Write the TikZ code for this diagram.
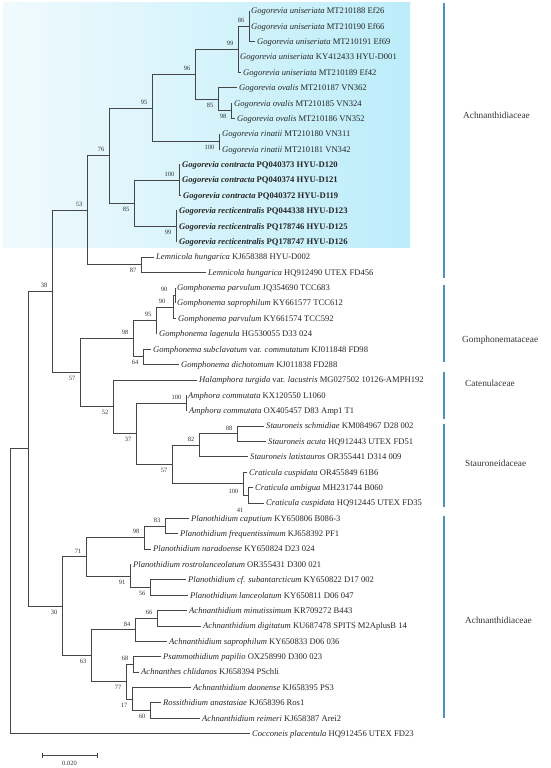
\documentclass[tikz,border=0pt]{standalone}
\usepackage{fontspec}
\setmainfont{Liberation Serif}
\usepackage{tikz}
\usetikzlibrary{calc}
\definecolor{cladebg}{RGB}{188,237,250}
\definecolor{cladebgl}{RGB}{240,250,253}
\definecolor{famblue}{RGB}{72,148,190}
\definecolor{treeline}{RGB}{70,70,70}
\newcommand{\taxon}[1]{\textit{#1}}
\newcommand{\newtaxon}[1]{\textbf{\textit{#1}}}

\tikzset{
	branch/.style={draw=treeline, line width=1pt},
	leaf/.style={anchor=west, inner xsep=2pt, inner ysep=0pt, text height=1.5ex, text depth=.3ex,
		font=\fontsize{8.6}{10}\selectfont, text=black!85},
	bootup/.style={anchor=south east, inner sep=0pt, font=\fontsize{6.5}{7}\selectfont,
		text=black!80, xshift=-4.5pt, yshift=3.5pt},
	bootdn/.style={anchor=north east, inner sep=0pt, font=\fontsize{6.5}{7}\selectfont,
		text=black!80, xshift=-4.5pt, yshift=-3.5pt},
	famline/.style={draw=famblue, line width=1.1pt},
	famlabel/.style={anchor=west, inner sep=0pt, font=\fontsize{9.3}{11}\selectfont, text=black!80},
}

\begin{document}
\begin{tikzpicture}[x=1pt, y=-1pt]
		\useasboundingbox (0,0) rectangle (550,768);
		% shaded clade
		\shade[left color=cladebgl, right color=cladebg] (3,3) rectangle (410,247);

		% tips
		\node[leaf] (l1) at (249,11) {\taxon{Gogorevia uniseriata} MT210188 Ef26};
		\node[leaf] (l2) at (249,26.4) {\taxon{Gogorevia uniseriata} MT210190 Ef66};
		\node[leaf] (l3) at (255,41.75) {\taxon{Gogorevia uniseriata} MT210191 Ef69};
		\node[leaf] (l4) at (238,57.1) {\taxon{Gogorevia uniseriata} KY412433 HYU-D001};
		\node[leaf] (l5) at (241,72.5) {\taxon{Gogorevia uniseriata} MT210189 Ef42};
		\node[leaf] (l6) at (237,87.9) {\taxon{Gogorevia ovalis} MT210187 VN362};
		\node[leaf] (l7) at (232,103.25) {\taxon{Gogorevia ovalis} MT210185 VN324};
		\node[leaf] (l8) at (235,118.6) {\taxon{Gogorevia ovalis} MT210186 VN352};
		\node[leaf] (l9) at (220,134) {\taxon{Gogorevia rinatii} MT210180 VN311};
		\node[leaf] (l10) at (220,149.4) {\taxon{Gogorevia rinatii} MT210181 VN342};
		\node[leaf] (l11) at (180,164.75) {\newtaxon{Gogorevia contracta} \textbf{PQ040373 HYU-D120}};
		\node[leaf] (l12) at (180,180.1) {\newtaxon{Gogorevia contracta} \textbf{PQ040374 HYU-D121}};
		\node[leaf] (l13) at (181,195.5) {\newtaxon{Gogorevia contracta} \textbf{PQ040372 HYU-D119}};
		\node[leaf] (l14) at (177,210.9) {\newtaxon{Gogorevia recticentralis} \textbf{PQ044338 HYU-D123}};
		\node[leaf] (l15) at (177,226.25) {\newtaxon{Gogorevia recticentralis} \textbf{PQ178746 HYU-D125}};
		\node[leaf] (l16) at (177,241.6) {\newtaxon{Gogorevia recticentralis} \textbf{PQ178747 HYU-D126}};
		\node[leaf] (l17) at (154,257) {\taxon{Lemnicola hungarica} KJ658388 HYU-D002};
		\node[leaf] (l18) at (206,272.4) {\taxon{Lemnicola hungarica} HQ912490 UTEX FD456};
		\node[leaf] (l19) at (175,287.75) {\taxon{Gomphonema parvulum} JQ354690 TCC683};
		\node[leaf] (l20) at (175,303.1) {\taxon{Gomphonema saprophilum} KY661577 TCC612};
		\node[leaf] (l21) at (176,318.5) {\taxon{Gomphonema parvulum} KY661574 TCC592};
		\node[leaf] (l22) at (157,333.9) {\taxon{Gomphonema lagenula} HG530055 D33 024};
		\node[leaf] (l23) at (151,349.25) {\taxon{Gomphonema subclavatum} var. \taxon{commutatum} KJ011848 FD98};
		\node[leaf] (l24) at (179,364.6) {\taxon{Gomphonema dichotomum} KJ011838 FD288};
		\node[leaf] (l25) at (197,380) {\taxon{Halamphora turgida} var. \taxon{lacustris} MG027502 10126-AMPH192};
		\node[leaf] (l26) at (186,395.4) {\taxon{Amphora commutata} KX120550 L1060};
		\node[leaf] (l27) at (187,410.75) {\taxon{Amphora commutata} OX405457 D83 Amp1 T1};
		\node[leaf] (l28) at (264,426.1) {\taxon{Stauroneis schmidiae} KM084967 D28 002};
		\node[leaf] (l29) at (266,441.5) {\taxon{Stauroneis acuta} HQ912443 UTEX FD51};
		\node[leaf] (l30) at (248,456.9) {\taxon{Stauroneis latistauros} OR355441 D314 009};
		\node[leaf] (l31) at (247,472.25) {\taxon{Craticula cuspidata} OR455849 61B6};
		\node[leaf] (l32) at (253,487.6) {\taxon{Craticula ambigua} MH231744 B060};
		\node[leaf] (l33) at (264,503) {\taxon{Craticula cuspidata} HQ912445 UTEX FD35};
		\node[leaf] (l34) at (189,518.4) {\taxon{Planothidium caputium} KY650806 B086-3};
		\node[leaf] (l35) at (178,533.75) {\taxon{Planothidium frequentissimum} KJ658392 PF1};
		\node[leaf] (l36) at (151,549.1) {\taxon{Planothidium naradoense} KY650824 D23 024};
		\node[leaf] (l37) at (131,564.5) {\taxon{Planothidium rostrolanceolatum} OR355431 D300 021};
		\node[leaf] (l38) at (186,579.9) {\taxon{Planothidium cf. subantarcticum} KY650822 D17 002};
		\node[leaf] (l39) at (188,595.25) {\taxon{Planothidium lanceolatum} KY650811 D06 047};
		\node[leaf] (l40) at (187,610.6) {\taxon{Achnanthidium minutissimum} KR709272 B443};
		\node[leaf] (l41) at (201,626) {\taxon{Achnanthidium digitatum} KU687478 SPITS M2AplusB 14};
		\node[leaf] (l42) at (167,641.4) {\taxon{Achnanthidium saprophilum} KY650833 D06 036};
		\node[leaf] (l43) at (161,656.75) {\taxon{Psammothidium papilio} OX258990 D300 023};
		\node[leaf] (l44) at (139,672.1) {\taxon{Achnanthes chlidanos} KJ658394 PSchli};
		\node[leaf] (l45) at (191,687.5) {\taxon{Achnanthidium daonense} KJ658395 PS3};
		\node[leaf] (l46) at (161,702.9) {\taxon{Rossithidium anastasiae} KJ658396 Ros1};
		\node[leaf] (l47) at (200,718.25) {\taxon{Achnanthidium reimeri} KJ658387 Arei2};
		\node[leaf] (l48) at (250,733.6) {\taxon{Cocconeis placentula} HQ912456 UTEX FD23};

		% inner nodes
		\coordinate (n86) at (249,26.4);
		\coordinate (n99a) at (238,49.4);
		\coordinate (n98a) at (231,110.9);
		\coordinate (n85a) at (218,99.4);
		\coordinate (n96) at (195,74.4);
		\coordinate (n100a) at (219,141.7);
		\coordinate (n95a) at (152,108);
		\coordinate (n100b) at (179,180.1);
		\coordinate (n99b) at (176,226.25);
		\coordinate (n85b) at (134,203.2);
		\coordinate (n76) at (109,155.6);
		\coordinate (n87) at (141,264.7);
		\coordinate (n53) at (87,210.1);
		\coordinate (n90a) at (175,295.4);
		\coordinate (n90b) at (173,307);
		\coordinate (n95b) at (156,320.4);
		\coordinate (n64) at (143,356.9);
		\coordinate (n98b) at (133,338.7);
		\coordinate (n100c) at (186,403.1);
		\coordinate (n88) at (237,433.8);
		\coordinate (n82) at (199,445.3);
		\coordinate (n41) at (248,495.3);
		\coordinate (n100d) at (243,483.8);
		\coordinate (n57a) at (172,464.5);
		\coordinate (n37) at (136,433.8);
		\coordinate (n52) at (113,406.9);
		\coordinate (n57b) at (80,372.8);
		\coordinate (n38) at (52,291.4);
		\coordinate (n83) at (165,526.1);
		\coordinate (n98c) at (144,537.6);
		\coordinate (n56) at (150,587.6);
		\coordinate (n91) at (130,576);
		\coordinate (n71) at (86,556.8);
		\coordinate (n66) at (157,618.3);
		\coordinate (n84) at (135,629.8);
		\coordinate (n68) at (133,664.4);
		\coordinate (n60) at (150,710.6);
		\coordinate (n17) at (132,699);
		\coordinate (n77) at (126,681.7);
		\coordinate (n63) at (91,655.8);
		\coordinate (n30) at (62,606.3);
		\coordinate (ntop) at (28,448.9);
		\coordinate (root) at (10,591.2);

		% branches
		\draw[branch] (root) |- (ntop); \draw[branch] (root) |- (l48.west);
		\draw[branch] (ntop) |- (n38); \draw[branch] (ntop) |- (n30);
		\draw[branch] (n38) |- (n53); \draw[branch] (n38) |- (n57b);
		\draw[branch] (n53) |- (n76); \draw[branch] (n53) |- (n87);
		\draw[branch] (n76) |- (n95a); \draw[branch] (n76) |- (n85b);
		\draw[branch] (n95a) |- (n96); \draw[branch] (n95a) |- (n100a);
		\draw[branch] (n96) |- (n99a); \draw[branch] (n96) |- (n85a);
		\draw[branch] (n99a) |- (n86); \draw[branch] (n99a) |- (l4.west); \draw[branch] (n99a) |- (l5.west);
		\draw[branch] (n86) |- (l1.west); \draw[branch] (n86) |- (l2.west); \draw[branch] (n86) |- (l3.west);
		\draw[branch] (n85a) |- (l6.west); \draw[branch] (n85a) |- (n98a);
		\draw[branch] (n98a) |- (l7.west); \draw[branch] (n98a) |- (l8.west);
		\draw[branch] (n100a) |- (l9.west); \draw[branch] (n100a) |- (l10.west);
		\draw[branch] (n85b) |- (n100b); \draw[branch] (n85b) |- (n99b);
		\draw[branch] (n100b) |- (l11.west); \draw[branch] (n100b) |- (l12.west); \draw[branch] (n100b) |- (l13.west);
		\draw[branch] (n99b) |- (l14.west); \draw[branch] (n99b) |- (l15.west); \draw[branch] (n99b) |- (l16.west);
		\draw[branch] (n87) |- (l17.west); \draw[branch] (n87) |- (l18.west);
		\draw[branch] (n57b) |- (n98b); \draw[branch] (n57b) |- (n52);
		\draw[branch] (n98b) |- (n95b); \draw[branch] (n98b) |- (n64);
		\draw[branch] (n95b) |- (n90b); \draw[branch] (n95b) |- (l22.west);
		\draw[branch] (n90b) |- (n90a); \draw[branch] (n90b) |- (l21.west);
		\draw[branch] (n90a) |- (l19.west); \draw[branch] (n90a) |- (l20.west);
		\draw[branch] (n64) |- (l23.west); \draw[branch] (n64) |- (l24.west);
		\draw[branch] (n52) |- (l25.west); \draw[branch] (n52) |- (n37);
		\draw[branch] (n37) |- (n100c); \draw[branch] (n37) |- (n57a);
		\draw[branch] (n100c) |- (l26.west); \draw[branch] (n100c) |- (l27.west);
		\draw[branch] (n57a) |- (n82); \draw[branch] (n57a) |- (n100d);
		\draw[branch] (n82) |- (n88); \draw[branch] (n82) |- (l30.west);
		\draw[branch] (n88) |- (l28.west); \draw[branch] (n88) |- (l29.west);
		\draw[branch] (n100d) |- (l31.west); \draw[branch] (n100d) |- (n41);
		\draw[branch] (n41) |- (l32.west); \draw[branch] (n41) |- (l33.west);
		\draw[branch] (n30) |- (n71); \draw[branch] (n30) |- (n63);
		\draw[branch] (n71) |- (n98c); \draw[branch] (n71) |- (n91);
		\draw[branch] (n98c) |- (n83); \draw[branch] (n98c) |- (l36.west);
		\draw[branch] (n83) |- (l34.west); \draw[branch] (n83) |- (l35.west);
		\draw[branch] (n91) |- (l37.west); \draw[branch] (n91) |- (n56);
		\draw[branch] (n56) |- (l38.west); \draw[branch] (n56) |- (l39.west);
		\draw[branch] (n63) |- (n84); \draw[branch] (n63) |- (n77);
		\draw[branch] (n84) |- (n66); \draw[branch] (n84) |- (l42.west);
		\draw[branch] (n66) |- (l40.west); \draw[branch] (n66) |- (l41.west);
		\draw[branch] (n77) |- (n68); \draw[branch] (n77) |- (n17);
		\draw[branch] (n68) |- (l43.west); \draw[branch] (n68) |- (l44.west);
		\draw[branch] (n17) |- (l45.west); \draw[branch] (n17) |- (n60);
		\draw[branch] (n60) |- (l46.west); \draw[branch] (n60) |- (l47.west);

		% bootstrap values
		\node[bootup] (b86) at (n86) {86};
		\node[bootup] (b99a) at (n99a) {99};
		\node[bootup] (b96) at (n96) {96};
		\node[bootdn] (b85a) at (n85a) {85};
		\node[bootdn] (b98a) at (n98a) {98};
		\node[bootup] (b95a) at (n95a) {95};
		\node[bootdn] (b100a) at (n100a) {100};
		\node[bootup] (b76) at (n76) {76};
		\node[bootup] (b100b) at (n100b) {100};
		\node[bootdn] (b85b) at (n85b) {85};
		\node[bootdn] (b99b) at (n99b) {99};
		\node[bootup] (b53) at (n53) {53};
		\node[bootdn] (b87) at (n87) {87};
		\node[bootup] (b38) at (n38) {38};
		\node[bootup, xshift=-3pt] (b90a) at (n90a) {90};
		\node[bootup, xshift=-3pt] (b90b) at (n90b) {90};
		\node[bootup] (b95b) at (n95b) {95};
		\node[bootup] (b98b) at (n98b) {98};
		\node[bootdn] (b64) at (n64) {64};
		\node[bootdn] (b57b) at (n57b) {57};
		\node[bootup] (b100c) at (n100c) {100};
		\node[bootdn] (b52) at (n52) {52};
		\node[bootup] (b88) at (n88) {88};
		\node[bootup] (b82) at (n82) {82};
		\node[bootdn] (b37) at (n37) {37};
		\node[bootdn] (b57a) at (n57a) {57};
		\node[bootdn, yshift=-2pt] (b100d) at (n100d) {100};
		\node[bootdn, yshift=-9pt] (b41) at (n41) {41};
		\node[bootup] (b83) at (n83) {83};
		\node[bootup] (b98c) at (n98c) {98};
		\node[bootup] (b71) at (n71) {71};
		\node[bootdn] (b91) at (n91) {91};
		\node[bootdn] (b56) at (n56) {56};
		\node[bootdn] (b30) at (n30) {30};
		\node[bootup] (b66) at (n66) {66};
		\node[bootup] (b84) at (n84) {84};
		\node[bootup] (b68) at (n68) {68};
		\node[bootdn] (b63) at (n63) {63};
		\node[bootdn] (b77) at (n77) {77};
		\node[bootdn] (b17) at (n17) {17};
		\node[bootdn] (b60) at (n60) {60};

		% families
		\draw[famline] (444,3) coordinate (fa1t) -- (444,278) coordinate (fa1b);
		\node[famlabel] (fam1) at (463,115) {Achnanthidiaceae};
		\draw[famline] (444,285) coordinate (fa2t) -- (444,362) coordinate (fa2b);
		\node[famlabel] (fam2) at (462,340) {Gomphonemataceae};
		\draw[famline] (444,372) coordinate (fa3t) -- (444,419) coordinate (fa3b);
		\node[famlabel] (fam3) at (465,383) {Catenulaceae};
		\draw[famline] (444,424) coordinate (fa4t) -- (444,507) coordinate (fa4b);
		\node[famlabel] (fam4) at (465,463) {Stauroneidaceae};
		\draw[famline] (444,516) coordinate (fa5t) -- (444,718) coordinate (fa5b);
		\node[famlabel] (fam5) at (465,620) {Achnanthidiaceae};

		% scale bar
		\coordinate (sbl) at (42,755);
		\coordinate (sbr) at (97,755);
		\draw[branch, line width=0.8pt] (sbl) -- (sbr);
		\draw[branch, line width=0.8pt] ([yshift=2.5pt]sbl) -- ([yshift=-2.5pt]sbl);
		\draw[branch, line width=0.8pt] ([yshift=2.5pt]sbr) -- ([yshift=-2.5pt]sbr);
		\node[font=\fontsize{6.5}{7}\selectfont, text=black!80, inner sep=0pt] (sblabel) at (69.5,763) {0.020};
	\end{tikzpicture}
\end{document}
